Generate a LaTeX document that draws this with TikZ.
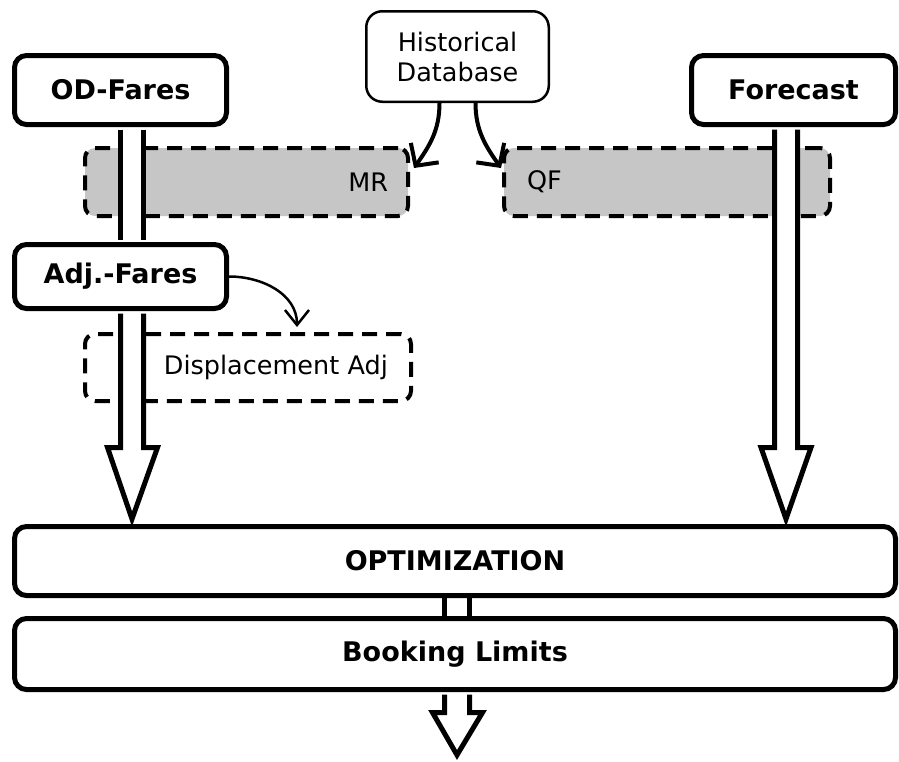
\documentclass[tikz,border=0pt]{standalone}
\usepackage{fontspec}
\setmainfont{DejaVu Sans}
\usetikzlibrary{arrows.meta,calc}
\pgfdeclarelayer{back}
\pgfdeclarelayer{mid}
\pgfsetlayers{back,mid,main}

\begin{document}
\begin{tikzpicture}[x=1pt,y=-1pt,
  box/.style={draw, line width=5pt, rounded corners=12pt, fill=white, inner sep=0pt,
    font=\fontsize{27}{30}\selectfont\bfseries},
  dbbox/.style={draw, line width=2.5pt, rounded corners=16pt, fill=white, inner sep=0pt,
    align=center, font=\fontsize{25.5}{30}\selectfont},
  dashbox/.style={draw, line width=4pt, dash pattern=on 15pt off 9pt, rounded corners=10pt,
    inner sep=0pt, font=\fontsize{25.5}{28}\selectfont},
  shaded/.style={dashbox, fill=gray!45},
  hollow/.style={draw, line width=5pt, fill=white, line join=miter},
  shaftline/.style={draw, line width=5pt},
  feed/.style={draw, line width=4pt, -{Straight Barb[length=16pt,width=34pt]}},
  thinfeed/.style={draw, line width=2.5pt, -{Straight Barb[length=15pt,width=24pt]}}
]
\useasboundingbox (0,0) rectangle (899,761);

% source boxes
\node[dbbox, minimum width=182.5, minimum height=90.5] (hd) at (457.5,56.5) {Historical\\Database};
\node[box, minimum width=212, minimum height=69] (od) at (120.5,90) {OD-Fares};
\node[box, minimum width=204, minimum height=69] (fc) at (793.5,90) {Forecast};
\node[box, minimum width=212, minimum height=64] (adj) at (120.5,276.5) {Adj.-Fares};
\node[box, minimum width=881, minimum height=69] (opt) at (455,561) {OPTIMIZATION};
\node[box, minimum width=881, minimum height=71] (bl) at (455,654) {Booking Limits};

% adjustment stages
\begin{pgfonlayer}{back}
\node[shaded, minimum width=323, minimum height=68, text width=283, align=right] (mr) at (246.5,182) {MR};
\node[shaded, minimum width=326, minimum height=68, text width=280, align=left] (qf) at (667,182) {QF};
\node[dashbox, fill=white, minimum width=326, minimum height=67, text width=280, align=right] (disp) at (248,367.5) {Displacement Adj};
\end{pgfonlayer}

% hollow flow arrows
\begin{pgfonlayer}{mid}
\fill[white] ($(od.south)+(0,2.5)$) rectangle ($(adj.north)+(23,-2.5)$);
\draw[shaftline] ($(od.south)+(0,2.5)$) -- ($(adj.north)+(0,-2.5)$);
\draw[shaftline] ($(od.south)+(23,2.5)$) -- ($(adj.north)+(23,-2.5)$);

\filldraw[hollow] ($(adj.south)+(0,2.5)$) -- (120.5,447.5) -- (107.5,447.5)
  -- ($(opt.north)+(-323,-5)$) -- (157.5,447.5) -- (143.5,447.5) -- ($(adj.south)+(23,2.5)$);

\filldraw[hollow] ($(fc.south)+(-19,2.5)$) -- (774.5,447.5) -- (761,447.5)
  -- ($(opt.north)+(331,-5)$) -- (811,447.5) -- (797.5,447.5) -- ($(fc.south)+(4,2.5)$);

\fill[white] ($(opt.south)+(-10.5,0)$) rectangle ($(bl.north)+(14.5,0)$);
\draw[shaftline] ($(opt.south)+(-10.5,0)$) -- ($(bl.north)+(-10.5,0)$);
\draw[shaftline] ($(opt.south)+(14.5,0)$) -- ($(bl.north)+(14.5,0)$);

\coordinate (out) at (457,755);
\filldraw[hollow] ($(bl.south)+(-10.5,2.5)$) -- (444.5,712.5) -- (432.5,712.5)
  -- (out) -- (482.5,712.5) -- (469.5,712.5) -- ($(bl.south)+(14.5,2.5)$);
\end{pgfonlayer}

% thin feeds
\draw[feed] ($(hd.south)+(-18,0)$) to[out=-90,in=55] ($(mr.east)+(4,-14)$);
\draw[feed] ($(hd.south)+(18,0)$) to[out=-90,in=125] ($(qf.west)+(-1,-14)$);
\draw[thinfeed] (adj.east) to[out=0,in=90] ($(disp.north)+(49,-5)$);
\end{tikzpicture}
\end{document}
